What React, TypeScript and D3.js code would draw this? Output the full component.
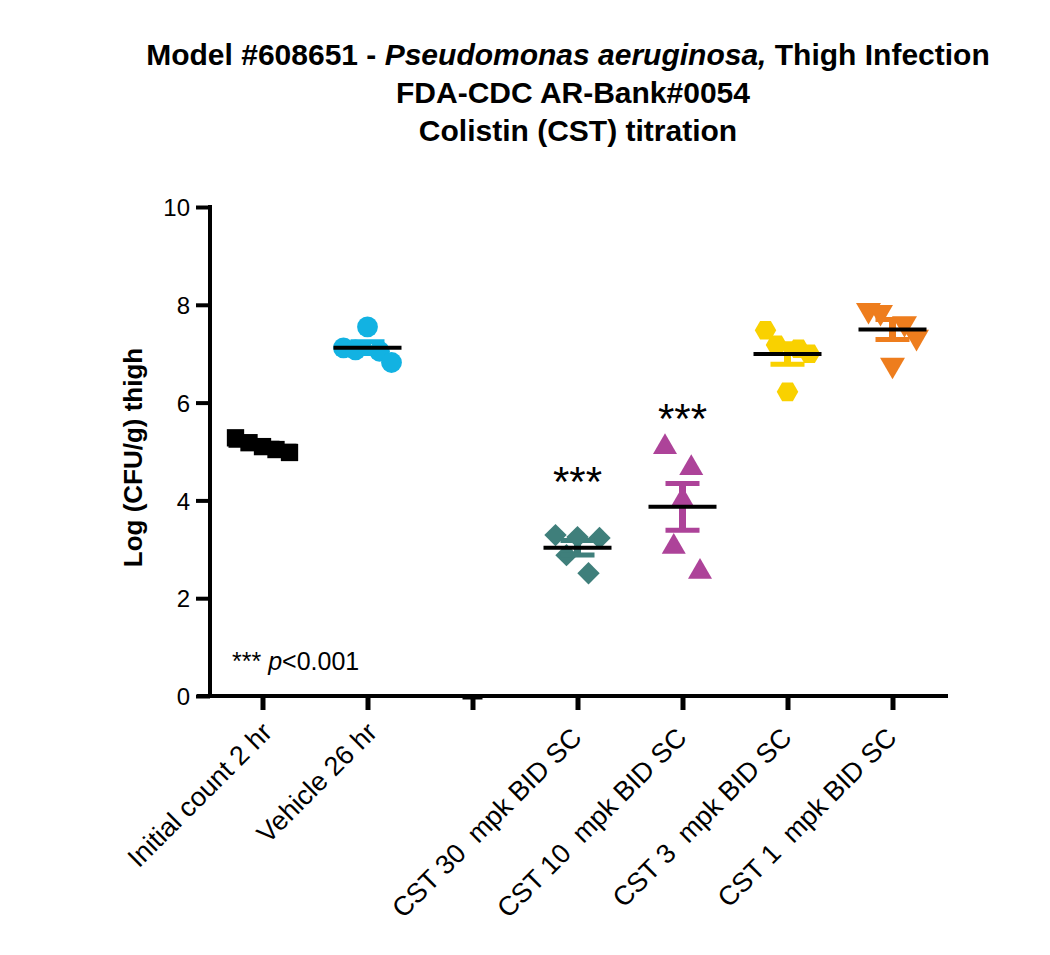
import * as d3 from 'd3';
import { useEffect, useRef } from 'react';

// groups in axis order; the third slot is an empty spacer column
const groups = [
  'Initial count 2 hr',
  'Vehicle 26 hr',
  '',
  'CST 30  mpk BID SC ',
  'CST 10  mpk BID SC ',
  'CST 3  mpk BID SC ',
  'CST 1  mpk BID SC ',
];

// log CFU/g values, listed left to right as they sit in each column
const initialCount = [5.28, 5.18, 5.1, 5.04, 4.98];
const vehicle = [7.12, 7.08, 7.55, 7.05, 6.82];
const cst30 = [3.29, 2.88, 3.25, 2.51, 3.23];
const cst10 = [5.09, 3.05, 4.0, 4.66, 2.54];
const cst3 = [7.48, 7.18, 6.22, 7.1, 7.0];
const cst1 = [7.89, 7.85, 6.77, 7.62, 7.34];

const yTicks = [0, 2, 4, 6, 8, 10];

// significance stars: group and the value they sit at
const stars = [
  { group: groups[3], value: 4.1 },
  { group: groups[4], value: 5.37 },
];

const hexagon = {
  draw(ctx: any, size: number) {
    const r = Math.sqrt((size * 2) / (3 * Math.sqrt(3)));
    for (let i = 0; i < 6; i++) {
      const a = (Math.PI / 3) * i;
      const px = r * Math.cos(a);
      const py = r * Math.sin(a);
      if (i === 0) ctx.moveTo(px, py);
      else ctx.lineTo(px, py);
    }
    ctx.closePath();
  },
};

const series = [
  { group: groups[0], values: initialCount, color: '#000000', type: d3.symbolSquare, size: 300, rotate: 0, spread: 13.5 },
  { group: groups[1], values: vehicle, color: '#12b2e2', type: d3.symbolCircle, size: 340, rotate: 0, spread: 12 },
  { group: groups[3], values: cst30, color: '#3f7f7b', type: d3.symbolSquare, size: 250, rotate: 45, spread: 11 },
  { group: groups[4], values: cst10, color: '#ad4399', type: d3.symbolTriangle, size: 250, rotate: 0, spread: 8.75 },
  { group: groups[5], values: cst3, color: '#f9d100', type: hexagon, size: 300, rotate: 0, spread: 11 },
  { group: groups[6], values: cst1, color: '#ee7d1d', type: d3.symbolTriangle, size: 270, rotate: 180, spread: 12 },
];

export default function App() {
  const ref = useRef<SVGSVGElement | null>(null);

  useEffect(() => {
    if (!ref.current) return;
    const svg = d3.select(ref.current);
    svg.selectAll('*').remove();

    const font = "'Liberation Sans', Arial, sans-serif";
    const x = d3.scalePoint<string>().domain(groups.map((g, i) => g || `empty${i}`)).range([210, 945]).padding(0.5);
    const y = d3.scaleLinear().domain([0, 10]).range([696, 207]);
    const xOf = (g: string) => x(g)!;

    // title
    const title = svg.append('g').attr('font-family', font).attr('font-weight', 'bold').attr('font-size', 30).attr('text-anchor', 'middle');
    const t1 = title.append('text').attr('x', 568).attr('y', 65);
    t1.append('tspan').text('Model #608651 - ');
    t1.append('tspan').attr('font-style', 'italic').text('Pseudomonas aeruginosa,');
    t1.append('tspan').text(' Thigh Infection');
    title.append('text').attr('x', 573).attr('y', 103).text('FDA-CDC AR-Bank#0054');
    title.append('text').attr('x', 578).attr('y', 141).text('Colistin (CST) titration');

    // y axis
    const yAxis = svg.append('g').attr('transform', 'translate(210,0)')
      .call(d3.axisLeft(y).tickValues(yTicks).tickSize(14).tickPadding(6).tickSizeOuter(0));
    yAxis.select('.domain').attr('stroke-width', 4).attr('d', `M0,${y(10) - 2}V${y(0) + 2}`);
    yAxis.selectAll('.tick line').attr('stroke-width', 4);
    yAxis.selectAll('.tick text').attr('font-family', font).attr('font-size', 24).attr('fill', '#000').attr('dy', '0.36em');

    svg.append('text')
      .attr('transform', `translate(142,${(y(0) + y(10)) / 2 + 6}) rotate(-90)`)
      .attr('text-anchor', 'middle').attr('font-family', font).attr('font-weight', 'bold').attr('font-size', 26)
      .text('Log (CFU/g) thigh');

    // x axis
    const xAxis = svg.append('g').attr('transform', `translate(0,${y(0)})`)
      .call(d3.axisBottom(x).tickSize(14).tickSizeOuter(0).tickFormat(() => ''));
    xAxis.select('.domain').attr('stroke-width', 4).attr('d', 'M197,0H948');
    xAxis.selectAll('.tick line').attr('stroke-width', 5);

    svg.append('g').selectAll('text').data(groups.filter((g) => g)).join('text')
      .attr('transform', (g) => `translate(${xOf(g) + 11},${y(0) + 38}) rotate(-45)`)
      .attr('text-anchor', 'end').attr('font-family', font).attr('font-size', 27)
      .style('white-space', 'pre')
      .text((g) => g);

    // empty spacer column mean at zero
    svg.append('line')
      .attr('x1', xOf('empty2') - 10).attr('x2', xOf('empty2') + 10)
      .attr('y1', y(0) + 1).attr('y2', y(0) + 1)
      .attr('stroke', '#000').attr('stroke-width', 5);

    // points, SEM bars, mean lines
    series.forEach((s) => {
      const cx = xOf(s.group);
      const n = s.values.length;
      svg.append('g').selectAll('path').data(s.values).join('path')
        .attr('d', d3.symbol().type(s.type as any).size(s.size)())
        .attr('transform', (v, i) => `translate(${cx + (i - (n - 1) / 2) * s.spread},${y(v)}) rotate(${s.rotate})`)
        .attr('fill', s.color);

      const mean = d3.mean(s.values)!;
      const sem = d3.deviation(s.values)! / Math.sqrt(n);
      const eb = svg.append('g').attr('stroke', s.color);
      eb.append('line').attr('x1', cx).attr('x2', cx).attr('y1', y(mean + sem)).attr('y2', y(mean - sem)).attr('stroke-width', 7);
      [mean + sem, mean - sem].forEach((v) => {
        eb.append('line').attr('x1', cx - 17).attr('x2', cx + 17).attr('y1', y(v)).attr('y2', y(v)).attr('stroke-width', 5);
      });
      svg.append('line')
        .attr('x1', cx - 34).attr('x2', cx + 34).attr('y1', y(mean)).attr('y2', y(mean))
        .attr('stroke', '#000').attr('stroke-width', 4);
    });

    // stars
    svg.append('g').selectAll('text').data(stars).join('text')
      .attr('x', (d) => xOf(d.group)).attr('y', (d) => y(d.value))
      .attr('text-anchor', 'middle').attr('font-family', font).attr('font-size', 42)
      .text('***');

    const note = svg.append('text').attr('x', 232).attr('y', 670).attr('font-family', font).attr('font-size', 25);
    note.append('tspan').text('*** ');
    note.append('tspan').attr('font-style', 'italic').text('p');
    note.append('tspan').text('<0.001');
  }, []);

  return (
    <div style={{ position: 'absolute', left: 0, top: 0 }}>
      <svg ref={ref} width={1050} height={955} style={{ display: 'block', background: '#fff' }} />
    </div>
  );
}
